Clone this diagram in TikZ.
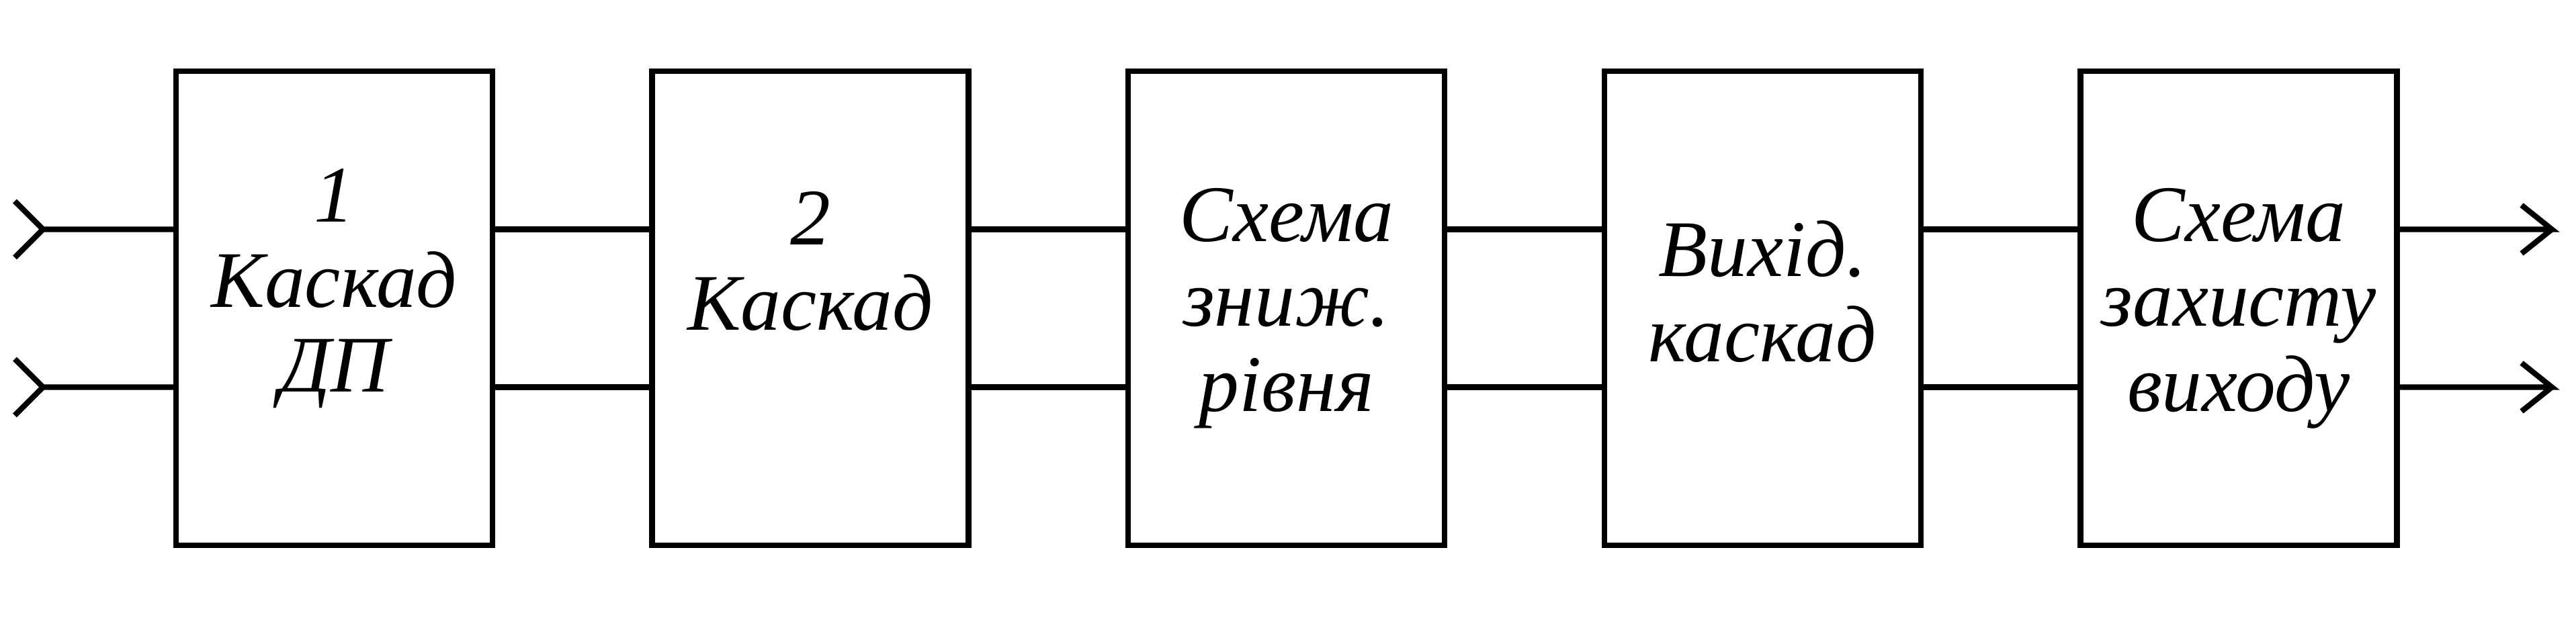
\documentclass[tikz,border=0pt]{standalone}
\usepackage{fontspec}
\setmainfont{Liberation Serif}
\usepackage{tikz}

\begin{document}
\begin{tikzpicture}[line width=2.35pt,
  blok/.style={draw, minimum width=4.71cm, minimum height=7.065cm, inner sep=0pt},
  napys/.style={align=center, font=\fontsize{34pt}{36pt}\selectfont\itshape}]
\useasboundingbox (0,0) rectangle (38.34,9.52);
% bloky
\node[blok] (b1) at (4.975,4.93) {};
\node[blok] (b2) at (12.061,4.93) {};
\node[blok] (b3) at (19.147,4.93) {};
\node[blok] (b4) at (26.233,4.93) {};
\node[blok] (b5) at (33.319,4.93) {};
% napysy
\node[napys] (t1) at ([yshift=0.29cm]b1.center) {1\\Каскад\\ДП};
\node[napys] (t2) at ([yshift=0.70cm]b2.center) {2\\Каскад};
\node[napys] (t3) at (b3.center) {Схема\\зниж.\\рівня};
\node[napys] (t4) at ([yshift=0.25cm]b4.center) {Вихід.\\каскад};
\node[napys] (t5) at (b5.center) {Схема\\захисту\\виходу};
% vkhody i vykhody
\coordinate (in1) at (0.64,6.105);
\coordinate (in2) at (0.64,3.755);
\coordinate (out1) at (37.98,6.105);
\coordinate (out2) at (37.98,3.755);
\draw (in1) ++(-0.42,0.42) -- (in1) -- ++(-0.42,-0.42) (in1) -- (in1 -| b1.west);
\draw (in2) ++(-0.42,0.42) -- (in2) -- ++(-0.42,-0.42) (in2) -- (in2 -| b1.west);
\draw (out1 -| b5.east) -- (out1) -- ++(-0.45,0.36) (out1) -- ++(-0.45,-0.36);
\draw (out2 -| b5.east) -- (out2) -- ++(-0.45,0.36) (out2) -- ++(-0.45,-0.36);
% zvyazky
\draw ([yshift=1.175cm]b1.east) -- ([yshift=1.175cm]b2.west);
\draw ([yshift=-1.175cm]b1.east) -- ([yshift=-1.175cm]b2.west);
\draw ([yshift=1.175cm]b2.east) -- ([yshift=1.175cm]b3.west);
\draw ([yshift=-1.175cm]b2.east) -- ([yshift=-1.175cm]b3.west);
\draw ([yshift=1.175cm]b3.east) -- ([yshift=1.175cm]b4.west);
\draw ([yshift=-1.175cm]b3.east) -- ([yshift=-1.175cm]b4.west);
\draw ([yshift=1.175cm]b4.east) -- ([yshift=1.175cm]b5.west);
\draw ([yshift=-1.175cm]b4.east) -- ([yshift=-1.175cm]b5.west);
\end{tikzpicture}
\end{document}
